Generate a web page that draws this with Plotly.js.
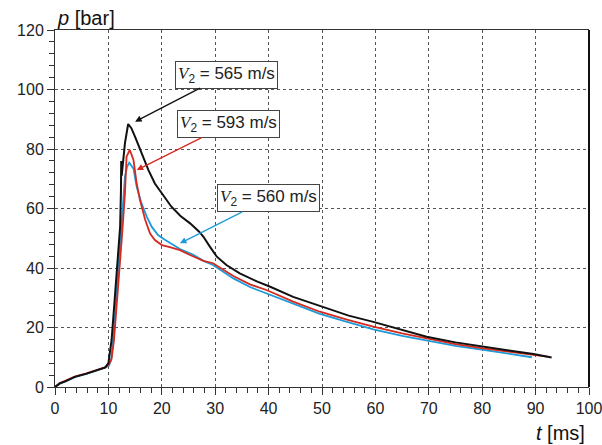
<!DOCTYPE html>
<html>
<head>
<meta charset="utf-8">
<script src="https://cdn.plot.ly/plotly-3.0.1.min.js"></script>
<style>html,body{margin:0;padding:0;background:#fff;}#chart{width:602px;height:445px;}</style>
</head>
<body>
<div id="chart"></div>
<script>
// V2 = 565 m/s (black)
const t565 = [0,0.9,1.9,3.7,5.9,7.8,9.4,10.0,10.6,11.2,11.7,12.2,12.35,12.4,12.5,12.6,13.1,13.7,14.3,15.0,16.2,17.5,18.7,20.0,21.8,23.5,25.3,27.0,27.8,29.0,30.3,32.1,34.6,37.8,40.3,44.6,50.9,55,59.6,65,69.6,75,80.2,85,89.6,93];
const p565 = [0,1.2,1.9,3.4,4.5,5.5,6.6,8.0,15.8,30,42.7,54,66,76,71,73,82,88.4,87,84.1,78.5,72.9,68.4,65,60.6,57.5,55,52.2,50.5,47.2,43.8,41,38.2,35.5,33.7,30.3,26.4,24,21.9,19.2,16.9,15,13.5,12.3,11.1,9.9];
// V2 = 593 m/s (red)
const t593 = [0,0.9,1.9,3.7,5.9,7.8,9.4,10.1,10.6,11.05,11.6,12.2,12.6,13.1,13.4,14.0,14.7,15.3,15.9,16.9,17.8,18.7,20.0,21.5,23.4,25.5,27.8,29.6,33.4,36.5,39.6,44.6,49.6,55,59.6,65,70.8,75,80.2,85,89.6,92.2];
const p593 = [0,1.3,2.1,3.5,4.6,5.6,6.6,7.6,9.5,15.8,28,40,52,65,77.4,79.7,76.3,68.4,62.9,56.1,51.6,49.4,47.7,47.0,46,44.2,42.4,41.6,37.3,34.5,32.6,28.7,25.3,22.5,20.3,18.0,15.8,14.4,13,11.9,10.8,10.2];
// V2 = 560 m/s (blue)
const t560 = [0,0.9,1.9,3.7,5.9,7.8,9.4,10.1,10.5,10.9,11.4,11.9,12.3,12.5,12.8,13.1,13.5,13.9,14.7,15.3,16.2,17.2,18.1,19.3,20.5,21.8,23.4,25.9,27.8,29.6,33.4,36.5,39.6,44.6,49.6,55,59.6,65,70.8,75,80.2,85,89.3];
const p560 = [0,1.1,1.8,3.3,4.4,5.4,6.5,7.2,9,15.8,28,40,50,57,64,70.7,74,75.4,73.4,67.3,61.7,57.2,53.9,51.1,49.6,48.2,46.4,44.4,42.4,41,36.5,33.6,31.5,27.9,24.6,21.7,19.4,17.2,15.2,13.8,12.5,11.3,10];

const labels = ['565 m/s','593 m/s','560 m/s'];
const colors = ['#111111','#d42a20','#1d9ad8'];
// arrow target points (t, p)
const arrowT = [15.0, 15.3, 23.4];
const arrowP = [89.2, 72.9, 48.3];

const traces = [
  {x:t560, y:p560, mode:'lines', line:{color:colors[2], width:1.8}},
  {x:t593, y:p593, mode:'lines', line:{color:colors[1], width:1.8}},
  {x:t565, y:p565, mode:'lines', line:{color:colors[0], width:2}}
];

const boxOffsets = [[91,-47],[92,-46],[89,-45]];
const annotations = labels.map((lab,i)=>({
  x: arrowT[i], y: arrowP[i], xref:'x', yref:'y',
  text: '<span style="font-family:\'Liberation Serif\';font-style:italic">V</span><sub>2</sub> = ' + lab,
  showarrow: true, arrowhead: 2, arrowsize: 1, arrowwidth: 1.3, arrowcolor: colors[i],
  ax: boxOffsets[i][0], ay: boxOffsets[i][1],
  font: {family:'Liberation Sans, Arial, sans-serif', size:17, color:'#222'},
  bgcolor:'#ffffff', bordercolor:'#444', borderwidth:1, borderpad:2
}));
annotations.push({
  xref:'paper', yref:'paper', x:0, y:1, xanchor:'left', yanchor:'bottom', yshift:-1, xshift:0,
  text:'<i>p</i> [bar]', showarrow:false,
  font:{family:'Liberation Sans, Arial, sans-serif', size:20, color:'#111'}
});
annotations.push({
  xref:'paper', yref:'paper', x:1, y:0, xanchor:'right', yanchor:'top', yshift:-33, xshift:-2,
  text:'<i>t</i> [ms]', showarrow:false,
  font:{family:'Liberation Sans, Arial, sans-serif', size:20, color:'#111'}
});

const layout = {
  width:602, height:445,
  margin:{l:55, r:13, t:30, b:58},
  paper_bgcolor:'#fff', plot_bgcolor:'#fff',
  showlegend:false,
  font:{family:'Liberation Sans, Arial, sans-serif', size:16, color:'#222'},
  xaxis:{
    range:[0,100], dtick:10, tick0:0, showgrid:true, gridcolor:'#555', griddash:'dot', gridwidth:1,
    zeroline:false, showline:true, linecolor:'#333', linewidth:1, mirror:true,
    ticks:'outside', ticklen:7, tickcolor:'#333', ticklabeloverflow:'allow',
    minor:{dtick:2, ticks:'outside', ticklen:5, tickcolor:'#333', showgrid:false},
    tickfont:{size:16}
  },
  yaxis:{
    range:[0,120], dtick:20, tick0:0, showgrid:true, gridcolor:'#555', griddash:'dot', gridwidth:1,
    zeroline:false, showline:true, linecolor:'#333', linewidth:1,
    ticks:'outside', ticklen:7, tickcolor:'#333', ticklabeloverflow:'allow',
    minor:{dtick:4, ticks:'outside', ticklen:5, tickcolor:'#333', showgrid:false},
    tickfont:{size:16}
  },
  shapes:[
    {type:'line', xref:'paper', yref:'paper', x0:1, x1:1, y0:0, y1:1, line:{color:'#111', width:2}}
  ],
  annotations: annotations
};

Plotly.newPlot('chart', traces, layout, {displayModeBar:false, staticPlot:true});
</script>
</body>
</html>
